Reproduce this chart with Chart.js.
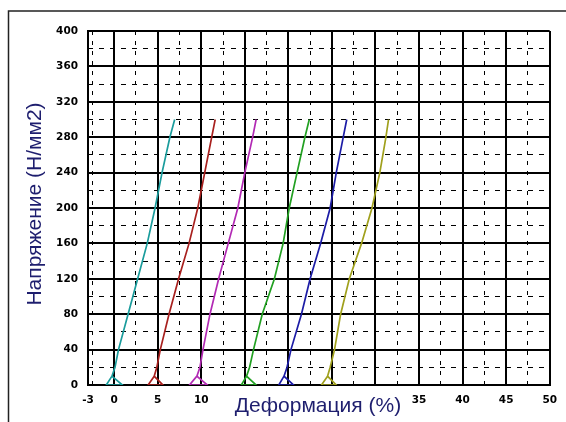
<!DOCTYPE html>
<html>
<head>
<meta charset="utf-8">
<script src="https://cdn.jsdelivr.net/npm/chart.js@4"></script>
<style>
html,body{margin:0;padding:0;background:#fff;}
#wrap{width:566px;height:422px;}
</style>
</head>
<body>
<div id="wrap"><canvas id="c" width="566" height="422"></canvas></div>
<script>
// ---- data ----
const stress = [10, 0, 0, 10, 20, 40, 80, 120, 160, 200, 240, 280, 300];
const strainTeal    = [-0.25, -0.9, 0.95, -0.25, 0.1, 0.5, 1.6, 2.7, 3.8, 4.7, 5.5, 6.4, 6.95];
const strainRed     = [4.6, 3.9, 5.6, 4.6, 4.9, 5.3, 6.3, 7.4, 8.6, 9.6, 10.4, 11.2, 11.6];
const strainMagenta = [9.5, 8.65, 10.7, 9.5, 9.85, 10.2, 11.0, 12.0, 13.1, 14.2, 15.0, 15.9, 16.3];
const strainGreen   = [15.2, 14.6, 16.3, 15.2, 15.55, 16.0, 17.0, 18.4, 19.4, 20.1, 21.0, 21.9, 22.4];
const strainBlue    = [19.5, 18.9, 20.6, 19.5, 19.85, 20.3, 21.5, 22.5, 23.7, 24.8, 25.5, 26.3, 26.7];
const strainOlive   = [24.5, 23.8, 25.5, 24.5, 24.8, 25.3, 26.0, 27.0, 28.4, 29.6, 30.5, 31.2, 31.5];

const xTicks = [-3, 0, 5, 10, 15, 20, 25, 30, 35, 40, 45, 50];
const xHiddenLabels = [15, 20, 25, 30];
const yTicks = [0, 40, 80, 120, 160, 200, 240, 280, 320, 360, 400];
const xDashTicks = [-2.5, 2.5, 7.5, 12.5, 17.5, 22.5, 27.5, 32.5, 37.5, 42.5, 47.5];
const yDashTicks = [20, 60, 100, 140, 180, 220, 260, 300, 340, 380];

const xTitle = 'Деформация (%)';
const yTitle = 'Напряжение (Н/мм2)';

const seriesStrains = [strainTeal, strainRed, strainMagenta, strainGreen, strainBlue, strainOlive];
const seriesColors = ['#1a9c9c', '#a8201e', '#b22ab4', '#22a022', '#1c1ca6', '#a0a01c'];

const datasets = seriesStrains.map((arr, i) => ({
  data: arr.map((x, j) => ({x: x, y: stress[j]})),
  borderColor: seriesColors[i],
  borderWidth: 1.7,
  pointRadius: 0,
  showLine: true,
  fill: false,
  tension: 0
}));

const titleColor = '#1e1e6e';

const framePlugin = {
  id: 'frame',
  beforeDraw(chart) {
    const ctx = chart.ctx;
    ctx.save();
    ctx.fillStyle = '#fff';
    ctx.fillRect(0, 0, chart.width, chart.height);
    ctx.strokeStyle = '#222';
    ctx.lineWidth = 1.5;
    ctx.beginPath();
    ctx.moveTo(8.5, chart.height);
    ctx.lineTo(8.5, 11);
    ctx.lineTo(chart.width, 11);
    ctx.stroke();
    ctx.restore();
  },
  afterDraw(chart) {
    const ctx = chart.ctx;
    ctx.save();
    ctx.fillStyle = titleColor;
    ctx.font = '21px "Liberation Sans", Arial, sans-serif';
    ctx.textAlign = 'center';
    ctx.textBaseline = 'middle';
    ctx.fillText(xTitle, 318, 406);
    ctx.translate(35, 204);
    ctx.rotate(-Math.PI / 2);
    ctx.fillText(yTitle, 0, 0);
    ctx.restore();
  }
};

const tickFont = {family: '"DejaVu Sans", sans-serif', size: 10.5, weight: 'bold'};

new Chart(document.getElementById('c'), {
  type: 'scatter',
  data: {datasets: datasets},
  plugins: [framePlugin],
  options: {
    responsive: false,
    animation: false,
    layout: {padding: {left: 0, top: 31, right: 9, bottom: 0}},
    plugins: {legend: {display: false}, tooltip: {enabled: false}},
    scales: {
      x: {
        type: 'linear', position: 'bottom', min: -3, max: 50,
        afterBuildTicks: s => { s.ticks = xTicks.map(v => ({value: v})); },
        afterFit: s => { s.height = 37; },
        ticks: {
          color: '#000', font: tickFont, padding: 9, maxRotation: 0, autoSkip: false,
          callback: v => xHiddenLabels.includes(v) ? '' : String(v)
        },
        grid: {color: '#000', lineWidth: 2, drawTicks: false},
        border: {display: true, color: '#000', width: 2}
      },
      y: {
        type: 'linear', position: 'left', min: 0, max: 400,
        afterBuildTicks: s => { s.ticks = yTicks.map(v => ({value: v})); },
        afterFit: s => { s.width = 88; },
        ticks: {color: '#000', font: tickFont, padding: 10, autoSkip: false},
        grid: {color: '#000', lineWidth: 2, drawTicks: false},
        border: {display: true, color: '#000', width: 2}
      },
      x2: {
        type: 'linear', position: 'bottom', min: -3, max: 50,
        afterBuildTicks: s => { s.ticks = xDashTicks.map(v => ({value: v})); },
        afterFit: s => { s.height = 0; },
        ticks: {display: false},
        grid: {color: '#000', lineWidth: 1, drawTicks: false},
        border: {display: false, dash: [4, 6]}
      },
      y2: {
        type: 'linear', position: 'left', min: 0, max: 400,
        afterBuildTicks: s => { s.ticks = yDashTicks.map(v => ({value: v})); },
        afterFit: s => { s.width = 0; },
        ticks: {display: false},
        grid: {color: '#000', lineWidth: 1, drawTicks: false},
        border: {display: false, dash: [5, 6]}
      }
    }
  }
});
</script>
</body>
</html>
